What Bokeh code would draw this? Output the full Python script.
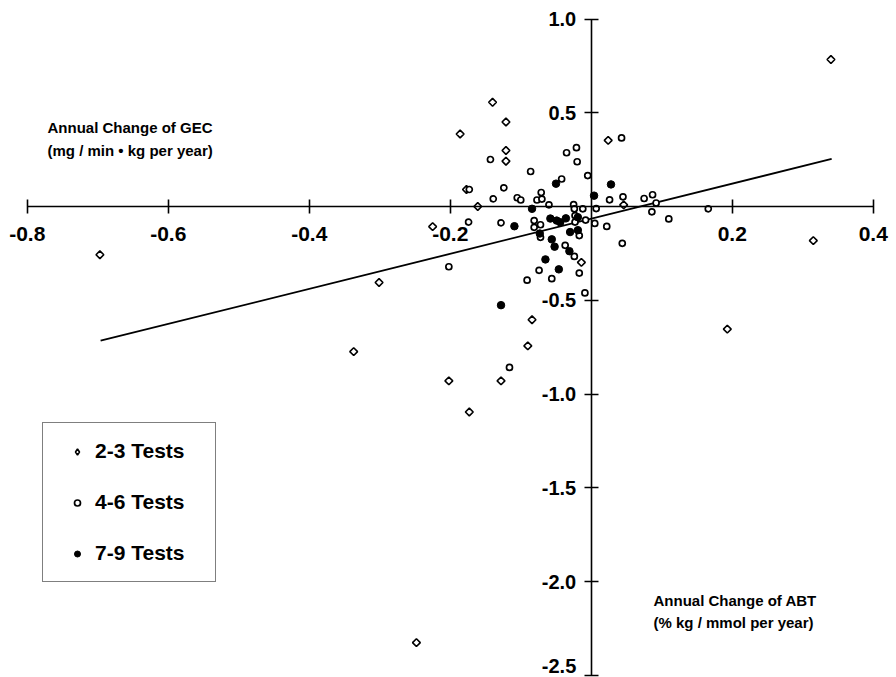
import math
from bokeh.plotting import figure
from bokeh.models import Range1d, FixedTicker, Label, Legend, LegendItem
from bokeh.embed import file_html
from bokeh.resources import INLINE

# ---- tick values / labels ----
x_ticks = [-0.8, -0.6, -0.4, -0.2, 0.2, 0.4]
x_tick_labels = ["-0.8", "-0.6", "-0.4", "-0.2", "0.2", "0.4"]
y_ticks = [1.0, 0.5, -0.5, -1.0, -1.5, -2.0, -2.5]
y_tick_labels = ["1.0", "0.5", "-0.5", "-1.0", "-1.5", "-2.0", "-2.5"]

# ---- series: 2-3 tests (open diamonds) ----
x_2_3 = [-0.697, -0.337, -0.301, -0.248, -0.225, -0.202, -0.186, -0.177, -0.173, -0.161,
         -0.140, -0.128, -0.121, -0.121, -0.121, -0.090, -0.084, -0.014, 0.024, 0.046,
         0.193, 0.315, 0.340]
y_2_3 = [-0.257, -0.774, -0.405, -2.326, -0.107, -0.930, 0.387, 0.091, -1.096, 0.000,
         0.556, -0.930, 0.451, 0.299, 0.242, -0.743, -0.604, -0.298, 0.353, 0.009,
         -0.654, -0.182, 0.784]

# ---- series: 4-6 tests (open circles) ----
x_4_6 = [-0.202, -0.174, -0.173, -0.143, -0.139, -0.128, -0.124, -0.116, -0.105, -0.100,
         -0.091, -0.086, -0.081, -0.081, -0.077, -0.074, -0.072, -0.072, -0.071, -0.070,
         -0.060, -0.056, -0.042, -0.037, -0.035, -0.025, -0.024, -0.024, -0.023, -0.023,
         -0.021, -0.020, -0.017, -0.017, -0.012, -0.009, -0.008, -0.005, 0.005, 0.007,
         0.022, 0.026, 0.043, 0.044, 0.045, 0.075, 0.086, 0.087, 0.092, 0.110, 0.166]
y_4_6 = [-0.321, -0.083, 0.091, 0.251, 0.041, -0.087, 0.100, -0.858, 0.047, 0.035,
         -0.393, 0.187, -0.075, -0.111, 0.035, -0.340, -0.097, -0.164, 0.075, 0.040,
         0.009, -0.385, 0.147, -0.207, 0.287, 0.010, -0.012, -0.266, -0.048, -0.083,
         0.314, 0.239, -0.155, -0.355, -0.012, -0.461, -0.072, 0.165, -0.090, -0.011,
         -0.106, 0.036, 0.366, -0.196, 0.052, 0.043, -0.028, 0.063, 0.019, -0.066, -0.012]

# ---- series: 7-9 tests (filled circles) ----
x_7_9 = [-0.128, -0.109, -0.084, -0.073, -0.065, -0.058, -0.056, -0.052, -0.050, -0.049,
         -0.046, -0.044, -0.036, -0.031, -0.030, -0.019, -0.019, 0.004, 0.028]
y_7_9 = [-0.526, -0.105, -0.012, -0.144, -0.282, -0.064, -0.175, -0.214, 0.122, -0.075,
         -0.335, -0.084, -0.063, -0.238, -0.136, -0.057, -0.126, 0.058, 0.118]

# ---- regression line ----
fit_slope = 0.935
fit_intercept = -0.065
fit_x = [-0.696, 0.341]
fit_y = [fit_intercept + fit_slope * v for v in fit_x]

legend_labels = ["2-3 Tests", "4-6 Tests", "7-9 Tests"]

FONT = "Liberation Sans"

p = figure(width=896, height=677,
           x_range=Range1d(-0.838, 0.433), y_range=Range1d(-2.512, 1.099),
           output_backend="svg", toolbar_location=None, min_border=0)
p.outline_line_color = None
p.xgrid.visible = False
p.ygrid.visible = False

# axes crossing at the origin
xa = p.xaxis[0]
ya = p.yaxis[0]
xa.fixed_location = 0
ya.fixed_location = 0
xa.bounds = (x_ticks[0], x_ticks[-1])
ya.bounds = (y_ticks[-1], y_ticks[0])
xa.ticker = FixedTicker(ticks=x_ticks)
ya.ticker = FixedTicker(ticks=y_ticks)
xa.major_label_overrides = {t: s for t, s in zip(x_ticks, x_tick_labels)}
# the lowest y label sits at the page edge: it is drawn separately, nudged up
ya.major_label_overrides = {t: (s if t != y_ticks[-1] else "")
                            for t, s in zip(y_ticks, y_tick_labels)}
for ax in (xa, ya):
    ax.axis_line_width = 1.6
    ax.axis_line_color = "black"
    ax.major_tick_line_width = 1.6
    ax.major_tick_line_color = "black"
    ax.major_tick_in = 7
    ax.major_tick_out = 7
    ax.minor_tick_line_color = None
    ax.major_label_text_font = FONT
    ax.major_label_text_font_style = "bold"
    ax.major_label_text_color = "black"
xa.major_label_text_font_size = "21px"
xa.major_label_standoff = 13
ya.major_label_text_font_size = "20px"
ya.major_label_standoff = 8

p.add_layout(Label(x=0, y=y_ticks[-1], text=y_tick_labels[-1], x_offset=-15, y_offset=9,
                   text_font=FONT, text_font_size="20px", text_font_style="bold",
                   text_align="right", text_baseline="middle", text_color="black"))

# regression line
p.line(fit_x, fit_y, line_color="black", line_width=1.8)

# points
r23 = p.scatter(x_2_3, y_2_3, marker="square", angle=math.pi / 4, size=5.5,
                fill_color="white", line_color="black", line_width=1.6)
r46 = p.scatter(x_4_6, y_4_6, marker="circle", size=6,
                fill_color="white", line_color="black", line_width=1.7)
r79 = p.scatter(x_7_9, y_7_9, marker="circle", size=7.5,
                fill_color="black", line_color="black", line_width=1)

# a diamond-shaped key for the 2-3 tests entry (one undrawn NaN point)
key23 = p.scatter([float("nan")], [float("nan")], marker="diamond", size=6,
                  fill_color="white", line_color="black", line_width=1.6)

lg = Legend(items=[LegendItem(label=legend_labels[0], renderers=[key23]),
                   LegendItem(label=legend_labels[1], renderers=[r46]),
                   LegendItem(label=legend_labels[2], renderers=[r79])])
lg.location = (42, 95)
lg.padding = 16
lg.spacing = 27
lg.margin = 0
lg.glyph_width = 36
lg.glyph_height = 15
lg.label_standoff = 0
lg.label_width = 104
lg.label_text_font = FONT
lg.label_text_font_size = "21px"
lg.label_text_font_style = "bold"
lg.label_text_color = "black"
lg.border_line_color = "black"
lg.border_line_width = 1.2
lg.background_fill_color = "white"
lg.background_fill_alpha = 1.0
p.add_layout(lg, "center")

# axis titles
def add_label(x, y, text):
    p.add_layout(Label(x=x, y=y, x_units="screen", y_units="screen", text=text,
                       text_font=FONT, text_font_size="15px", text_font_style="bold",
                       text_baseline="middle", text_align="left", text_color="black"))

add_label(47, 550, "Annual Change of GEC")
add_label(47, 527, "(mg / min \u2022 kg per year)")
add_label(653, 77, "Annual Change of ABT")
add_label(653, 55, "(% kg / mmol per year)")

open("out.html", "w").write(file_html(p, INLINE))
